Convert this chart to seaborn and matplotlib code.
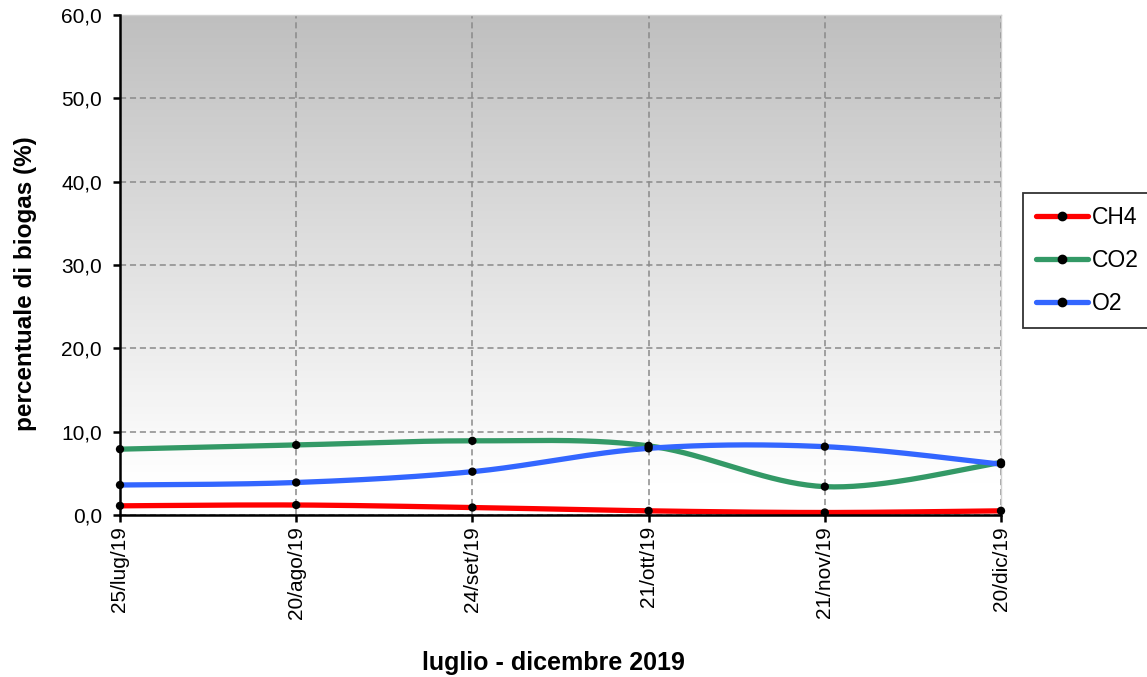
import numpy as np
import pandas as pd
import matplotlib
matplotlib.use("Agg")
import matplotlib.pyplot as plt
import seaborn as sns
from matplotlib.lines import Line2D
from matplotlib.colors import LinearSegmentedColormap

dates = ["25/lug/19", "20/ago/19", "24/set/19", "21/ott/19", "21/nov/19", "20/dic/19"]
ch4 = [1.1, 1.2, 0.9, 0.5, 0.3, 0.5]
co2 = [7.9, 8.4, 8.9, 8.3, 3.4, 6.3]
o2 = [3.6, 3.9, 5.2, 8.0, 8.2, 6.1]
series_names = ["CH4", "CO2", "O2"]
series_colors = ["#ff0000", "#339966", "#3366ff"]
yticks = [0, 10, 20, 30, 40, 50, 60]

sns.set_theme(style="white")
plt.rcParams["font.family"] = ["Liberation Sans", "DejaVu Sans"]
plt.rcParams["text.color"] = "black"
plt.rcParams["axes.labelcolor"] = "black"
plt.rcParams["xtick.color"] = "black"
plt.rcParams["ytick.color"] = "black"

W, H = 1147, 677
fig = plt.figure(figsize=(W / 100, H / 100), dpi=100)
ax = fig.add_axes([120 / W, 1 - 515 / H, (1001 - 120) / W, (515 - 15) / H])

# gradient background
cmap = LinearSegmentedColormap.from_list("bg", [(0, "#bfbfbf"), (0.93, "#ffffff"), (1, "#ffffff")])
grad = np.linspace(0, 1, 256).reshape(-1, 1)
ax.imshow(grad, cmap=cmap, extent=[0, 1, 0, 1], transform=ax.transAxes,
          aspect="auto", zorder=0, interpolation="bicubic")


def smooth(xs, ys, n=40):
    xs = np.asarray(xs, float)
    ys = np.asarray(ys, float)
    P = np.column_stack([xs, ys])
    out = []
    for i in range(len(P) - 1):
        p0 = P[i - 1] if i > 0 else P[i]
        p1 = P[i]
        p2 = P[i + 1]
        p3 = P[i + 2] if i + 2 < len(P) else P[i + 1]
        c1 = p1 + (p2 - p0) / 6.0
        c2 = p2 - (p3 - p1) / 6.0
        t = np.linspace(0, 1, n, endpoint=(i == len(P) - 2))[:, None]
        seg = ((1 - t) ** 3) * p1 + 3 * ((1 - t) ** 2) * t * c1 + 3 * (1 - t) * t ** 2 * c2 + t ** 3 * p2
        out.append(seg)
    out = np.vstack(out)
    return out[:, 0], out[:, 1]


xpos = np.arange(len(dates))
for name, vals, col in zip(series_names, [ch4, co2, o2], series_colors):
    sx, sy = smooth(xpos, vals)
    df = pd.DataFrame({"x": sx, "y": sy})
    sns.lineplot(data=df, x="x", y="y", ax=ax, color=col, linewidth=3.8,
                 sort=False, zorder=3, estimator=None)
for name, vals, col in zip(series_names, [ch4, co2, o2], series_colors):
    sns.scatterplot(x=xpos, y=vals, ax=ax, color="black", s=36, zorder=5,
                    edgecolor="none", clip_on=False)

ax.set_xlim(0, len(dates) - 1)
ax.set_ylim(0, 60)
ax.set_xticks(xpos)
ax.set_xticklabels(dates, rotation=90, fontsize=15)
ax.set_yticks(yticks)
ax.set_yticklabels([f"{v:.1f}".replace(".", ",") for v in yticks], fontsize=15)
ax.grid(True, color="#8a8a8a", linestyle=(0, (4, 2.5)), linewidth=1.1, zorder=1)
ax.set_axisbelow(True)

for s in ["top", "right"]:
    ax.spines[s].set_color("#d0d0d0")
    ax.spines[s].set_linewidth(1)
for s in ["left", "bottom"]:
    ax.spines[s].set_color("black")
    ax.spines[s].set_linewidth(1.8)
    ax.spines[s].set_zorder(6)
ax.tick_params(axis="both", which="major", direction="out", length=5, width=1.8,
               color="black", labelcolor="black", bottom=True, left=True)
ax.tick_params(axis="y", pad=8)
ax.tick_params(axis="x", pad=3)

ax.set_xlabel("luglio - dicembre 2019", fontsize=18, fontweight="bold")
ax.set_ylabel("percentuale di biogas (%)", fontsize=17.5, fontweight="bold")
ax.xaxis.set_label_coords(0.5 - 7 / 881, (515 - 651) / 500)
ax.yaxis.set_label_coords((37 - 120) / 881, (515 - 284) / 500)

handles = [Line2D([0], [0], color=c, lw=3.8, marker="o", markersize=6,
                  markerfacecolor="black", markeredgecolor="black",
                  solid_capstyle="round")
           for c in series_colors]
leg = ax.legend(handles, series_names, loc="upper left",
                bbox_to_anchor=(1023 / W, 1 - 193 / H), bbox_transform=fig.transFigure,
                frameon=True, fontsize=16.5, fancybox=False, edgecolor="black",
                handlelength=2.3, handletextpad=0.15, labelspacing=0.88,
                borderpad=0.55, numpoints=1, borderaxespad=0)
leg.get_frame().set_linewidth(1.3)
leg.get_frame().set_facecolor("white")

fig.savefig("out.png", dpi=100)
